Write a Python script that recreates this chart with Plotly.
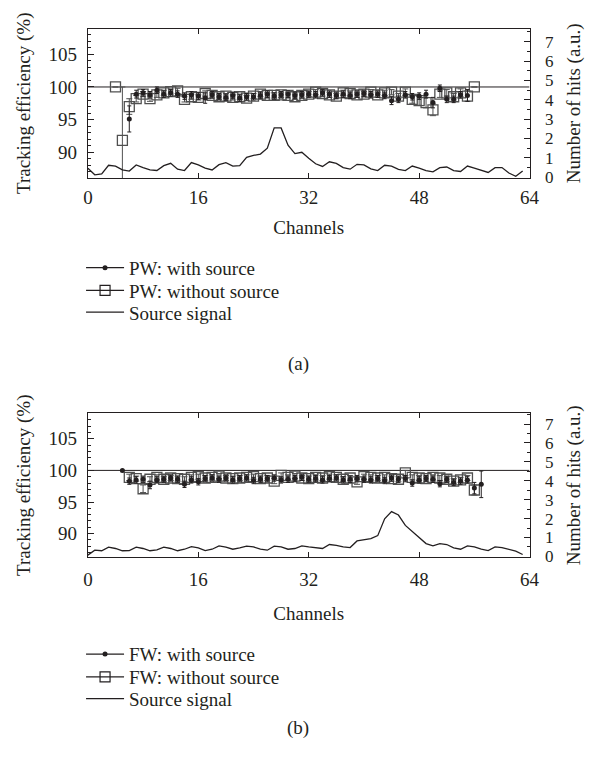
import plotly.graph_objects as go

# ---------------- data ----------------
channels_sig = list(range(0, 64))

signal_a = [0.47, 0.13, 0.18, 0.62, 0.58, 0.38, 0.32, 0.64, 0.50, 0.38, 0.35, 0.60,
            0.72, 0.42, 0.35, 0.76, 0.64, 0.47, 0.38, 0.65, 0.76, 0.58, 0.60, 1.03,
            1.13, 1.20, 1.50, 2.55, 2.55, 1.66, 1.22, 1.29, 0.98, 0.70, 0.56, 0.80,
            0.72, 0.50, 0.42, 0.67, 0.64, 0.44, 0.35, 0.62, 0.58, 0.41, 0.35, 0.58,
            0.47, 0.35, 0.28, 0.50, 0.53, 0.35, 0.30, 0.58, 0.47, 0.35, 0.25, 0.50,
            0.50, 0.22, 0.05, 0.32]

signal_b = [0.07, 0.33, 0.30, 0.49, 0.42, 0.30, 0.31, 0.49, 0.42, 0.30, 0.35, 0.49,
            0.42, 0.30, 0.38, 0.52, 0.45, 0.31, 0.38, 0.56, 0.49, 0.38, 0.45, 0.54,
            0.50, 0.38, 0.33, 0.54, 0.50, 0.38, 0.42, 0.56, 0.50, 0.45, 0.42, 0.63,
            0.59, 0.50, 0.47, 0.82, 0.87, 0.94, 1.10, 1.99, 2.37, 2.19, 1.64, 1.32,
            0.98, 0.68, 0.56, 0.68, 0.63, 0.45, 0.38, 0.56, 0.50, 0.38, 0.31, 0.50,
            0.47, 0.38, 0.28, 0.10]

# (a) PW: without source, channels 4..56
ch_wo_a = list(range(4, 57))
eff_wo_a = [100.0, 91.8, 97.0, 98.2, 98.9, 98.2, 98.8, 99.1, 99.3, 99.4, 98.1, 98.5,
            98.4, 99.0, 98.7, 98.5, 98.6, 98.4, 98.5, 98.3, 98.6, 98.9, 98.7, 98.7,
            98.8, 98.7, 98.5, 98.7, 98.9, 99.2, 99.0, 98.8, 98.6, 99.1, 99.0, 98.8,
            98.9, 99.2, 98.8, 99.1, 99.2, 98.6, 99.2, 98.1, 97.9, 97.6, 96.5, 98.9,
            99.1, 98.5, 99.1, 98.6, 100.0]
err_wo_a = [0.0, 8.2, 1.2, 0.5, 0.4, 0.4, 0.4, 0.4, 0.4, 0.4, 0.4, 0.4,
            0.4, 0.4, 0.4, 0.4, 0.4, 0.4, 0.4, 0.4, 0.4, 0.4, 0.4, 0.4,
            0.4, 0.4, 0.4, 0.4, 0.4, 0.4, 0.4, 0.4, 0.4, 0.4, 0.4, 0.4,
            0.4, 0.4, 0.4, 0.4, 0.4, 0.4, 0.5, 0.6, 0.7, 0.8, 0.9, 0.5,
            0.5, 0.5, 0.6, 0.8, 0.0]

# (a) PW: with source, channels 6..55
ch_w_a = list(range(6, 56))
eff_w_a = [95.1, 98.9, 99.1, 98.8, 99.5, 98.9, 99.1, 98.9, 98.6, 98.8, 98.6, 98.3,
           98.8, 98.5, 98.4, 98.7, 98.3, 98.5, 98.5, 98.7, 98.9, 98.6, 98.8, 98.9,
           98.7, 98.8, 98.9, 98.8, 99.1, 98.9, 98.7, 98.9, 98.7, 98.9, 99.0, 98.8,
           98.9, 98.7, 97.9, 98.1, 98.8, 98.5, 98.6, 98.9, 97.6, 99.8, 98.1, 98.1,
           98.8, 98.7]
err_w_a = [2.0, 0.6, 0.5, 0.5, 0.5, 0.5, 0.5, 0.5, 0.5, 0.5, 0.5, 0.8,
           0.5, 0.5, 0.5, 0.5, 0.5, 0.5, 0.5, 0.5, 0.5, 0.5, 0.5, 0.5,
           0.5, 0.5, 0.5, 0.5, 0.5, 0.5, 0.5, 0.5, 0.5, 0.5, 0.5, 0.5,
           0.5, 0.5, 0.6, 0.5, 0.5, 0.5, 0.5, 0.6, 0.8, 0.5, 0.5, 0.5,
           0.5, 0.9]

# (b) FW: without source, channels 6..56
ch_wo_b = list(range(6, 57))
eff_wo_b = [98.9, 98.7, 97.1, 98.6, 98.9, 98.6, 98.8, 98.7, 98.6, 98.9, 99.0, 98.8,
            98.9, 99.1, 98.8, 98.7, 98.8, 98.9, 99.0, 98.7, 98.8, 98.3, 99.2, 98.9,
            99.1, 98.8, 98.7, 98.9, 98.8, 99.0, 98.9, 98.6, 98.8, 98.2, 99.0, 98.9,
            98.8, 98.9, 98.7, 98.6, 99.6, 98.9, 98.8, 98.7, 98.9, 98.8, 98.6, 98.3,
            98.5, 98.8, 96.9]
err_wo_b = [0.5, 0.4, 0.6, 0.4, 0.4, 0.4, 0.4, 0.4, 0.4, 0.4, 0.4, 0.4,
            0.4, 0.4, 0.4, 0.4, 0.4, 0.4, 0.4, 0.4, 0.4, 0.4, 0.4, 0.4,
            0.4, 0.4, 0.4, 0.4, 0.4, 0.4, 0.4, 0.4, 0.4, 0.4, 0.4, 0.4,
            0.4, 0.4, 0.4, 0.4, 0.4, 0.4, 0.4, 0.4, 0.4, 0.4, 0.4, 0.4,
            0.4, 0.4, 0.8]

# (b) FW: with source, channels 5..57
ch_w_b = list(range(5, 58))
eff_w_b = [100.0, 98.3, 98.5, 98.6, 97.7, 98.5, 98.6, 98.8, 98.6, 97.8, 98.5, 98.2,
           98.7, 98.8, 98.6, 98.8, 98.5, 98.7, 98.8, 98.4, 98.6, 98.7, 98.8, 98.5,
           98.6, 98.7, 98.9, 98.6, 98.7, 98.5, 98.7, 98.8, 98.5, 98.6, 98.7, 98.6,
           98.5, 98.7, 98.4, 98.8, 98.6, 98.7, 98.0, 98.5, 98.7, 98.6, 97.9, 98.6,
           98.1, 98.3, 98.5, 97.2, 97.8]
err_w_b = [0.0, 0.5, 0.5, 0.5, 0.6, 0.5, 0.5, 0.5, 0.5, 0.5, 0.5, 0.5,
           0.5, 0.5, 0.5, 0.5, 0.5, 0.5, 0.5, 0.5, 0.5, 0.5, 0.5, 0.5,
           0.5, 0.5, 0.5, 0.5, 0.5, 0.5, 0.5, 0.5, 0.5, 0.5, 0.5, 0.5,
           0.5, 0.5, 0.5, 0.5, 0.5, 0.5, 0.5, 0.5, 0.5, 0.5, 0.5, 0.5,
           0.5, 0.5, 0.5, 0.9, 2.1]

x_ticks = [0, 16, 32, 48, 64]
reference_level = 100

# ---------------- figure ----------------
W, H = 601, 766
FONT = "Liberation Serif"
INK = "#231f20"
SQ = "#505050"
FS = 19

fig = go.Figure()


def add_panel(xa, ya, ya2, ch_w, eff_w, err_w, ch_wo, eff_wo, err_wo, sig, legends, tag):
    fig.add_trace(go.Scatter(x=ch_wo, y=eff_wo, mode="markers", xaxis=xa, yaxis=ya,
                             marker=dict(symbol="square-open", size=10, color=SQ, line=dict(width=1.3, color=SQ)),
                             error_y=dict(type="data", array=err_wo, thickness=1, width=3, color=SQ),
                             showlegend=False))
    fig.add_trace(go.Scatter(x=ch_w, y=eff_w, mode="markers", xaxis=xa, yaxis=ya,
                             marker=dict(symbol="circle", size=5, color=INK),
                             error_y=dict(type="data", array=err_w, thickness=1, width=2, color=INK),
                             showlegend=False))
    fig.add_trace(go.Scatter(x=channels_sig, y=sig, mode="lines", xaxis=xa, yaxis=ya2,
                             line=dict(color=INK, width=1.3), showlegend=False))
    # legend entries (one legend per row for exact row spacing)
    fig.add_trace(go.Scatter(x=[None], y=[None], mode="lines+markers", xaxis=xa, yaxis=ya,
                             name=f"{tag}: with source", legend=legends[0],
                             marker=dict(symbol="circle", size=5, color=INK),
                             line=dict(color=INK, width=1.2)))
    fig.add_trace(go.Scatter(x=[None], y=[None], mode="lines+markers", xaxis=xa, yaxis=ya,
                             name=f"{tag}: without source", legend=legends[1],
                             marker=dict(symbol="square-open", size=10, color=INK, line=dict(width=1.2, color=INK)),
                             line=dict(color=INK, width=1.2)))
    fig.add_trace(go.Scatter(x=[None], y=[None], mode="lines", xaxis=xa, yaxis=ya,
                             name="Source signal", legend=legends[2],
                             line=dict(color=INK, width=1.2)))


add_panel("x", "y", "y2", ch_w_a, eff_w_a, err_w_a, ch_wo_a, eff_wo_a, err_wo_a, signal_a,
          ["legend", "legend2", "legend3"], "PW")
add_panel("x2", "y3", "y4", ch_w_b, eff_w_b, err_w_b, ch_wo_b, eff_wo_b, err_wo_b, signal_b,
          ["legend4", "legend5", "legend6"], "FW")

xdom = [85 / W, 538 / W]
dom_a = [1 - 180 / H, 1 - 29 / H]
dom_b = [1 - 564 / H, 1 - 418 / H]

tickfont = dict(family=FONT, size=FS, color=INK)
rtickfont = dict(family=FONT, size=17, color=INK)
titlefont = dict(family=FONT, size=FS, color=INK)


def xaxis(domain_anchor, lab_off, title_off):
    return dict(domain=xdom, anchor=domain_anchor, range=[0, 64], tickvals=x_ticks,
                ticks="inside", ticklen=5, tickcolor=INK, showline=True, linecolor=INK,
                linewidth=1, mirror="ticks", showgrid=False, zeroline=False,
                tickfont=tickfont, ticklabelstandoff=lab_off,
                title=dict(text="Channels", font=titlefont, standoff=title_off))


def yleft(dom, xa, rng):
    return dict(domain=dom, anchor=xa, range=rng, tick0=90, dtick=5, ticks="inside",
                ticklen=6, tickcolor=INK, showline=True, linecolor=INK, linewidth=1,
                showgrid=False, zeroline=False, tickfont=tickfont, ticklabelstandoff=6,
                minor=dict(dtick=1, ticks="inside", ticklen=3, tickcolor=INK),
                title=dict(text="Tracking efficiency (%)", font=titlefont, standoff=12))


def yright(ov, xa, rng):
    return dict(overlaying=ov, anchor=xa, side="right", range=rng, tick0=0, dtick=1,
                ticks="inside", ticklen=6, tickcolor=INK, showline=True, linecolor=INK,
                linewidth=1, showgrid=False, zeroline=False, tickfont=rtickfont,
                ticklabelstandoff=11,
                minor=dict(dtick=0.5, ticks="inside", ticklen=3, tickcolor=INK),
                title=dict(text="Number of hits (a.u.)", font=titlefont, standoff=13))


def leg(row_y):
    return dict(x=78 / W, y=1 - row_y / H, xanchor="left", yanchor="middle",
                font=dict(family=FONT, size=FS, color=INK), bgcolor="rgba(0,0,0,0)",
                itemwidth=38, borderwidth=0)


fig.update_layout(
    width=W, height=H,
    margin=dict(l=0, r=0, t=0, b=0),
    paper_bgcolor="white", plot_bgcolor="white",
    font=dict(family=FONT, color=INK, size=FS),
    xaxis=xaxis("y", 2, 14),
    yaxis=yleft(dom_a, "x", [86.06, 108.94]),
    yaxis2=yright("y", "x", [-0.03, 7.67]),
    xaxis2=xaxis("y3", 5, 17),
    yaxis3=yleft(dom_b, "x2", [86.25, 109.06]),
    yaxis4=yright("y3", "x2", [-0.05, 7.58]),
    legend=leg(271), legend2=leg(294), legend3=leg(316),
    legend4=leg(662), legend5=leg(685), legend6=leg(707),
    shapes=[
        dict(type="line", xref="x", yref="y", x0=0, x1=64, y0=reference_level, y1=reference_level,
             line=dict(color=INK, width=1), layer="below"),
        dict(type="line", xref="x2", yref="y3", x0=0, x1=64, y0=reference_level, y1=reference_level,
             line=dict(color=INK, width=1), layer="below"),
    ],
    annotations=[
        dict(text="(a)", x=0.5, y=1 - 368 / H, xref="paper", yref="paper", showarrow=False,
             font=dict(family=FONT, size=FS, color=INK)),
        dict(text="(b)", x=0.5, y=1 - 750 / H, xref="paper", yref="paper", showarrow=False,
             font=dict(family=FONT, size=FS, color=INK)),
    ],
)

fig.write_html("out.html")
